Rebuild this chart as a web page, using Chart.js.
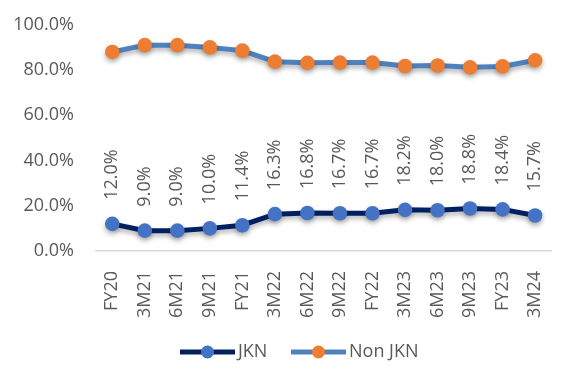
<!DOCTYPE html>
<html>
<head>
<meta charset="utf-8">
<script src="https://cdn.jsdelivr.net/npm/chart.js@4"></script>
<style>
  html, body { margin: 0; padding: 0; background: #fff; }
  #wrap { width: 569px; height: 365px; position: relative; }
</style>
</head>
<body>
<div id="wrap"><canvas id="chart"></canvas></div>
<script>
// Period labels and shares (%)
const periods = ['FY20', '3M21', '6M21', '9M21', 'FY21', '3M22', '6M22', '9M22', 'FY22', '3M23', '6M23', '9M23', 'FY23', '3M24'];
const jkn = [12.0, 9.0, 9.0, 10.0, 11.4, 16.3, 16.8, 16.7, 16.7, 18.2, 18.0, 18.8, 18.4, 15.7];
const nonJkn = [88.0, 91.0, 91.0, 90.0, 88.6, 83.7, 83.2, 83.3, 83.3, 81.8, 82.0, 81.2, 81.6, 84.3];
const yTicks = [0, 20, 40, 60, 80, 100];

const FONT = '"Open Sans", sans-serif';
const GREY = '#595959';
const SIZE = 18;

// soft drop shadow under the lines, like the Excel original
const shadowPlugin = {
    id: 'shadow',
    beforeDatasetsDraw: function(chart) {
        const ctx = chart.ctx;
        ctx.save();
        ctx.shadowColor = 'rgba(0,0,0,0.3)';
        ctx.shadowBlur = 5;
        ctx.shadowOffsetY = 3;
    },
    afterDatasetsDraw: function(chart) {
        chart.ctx.restore();
    }
};

// rotated value labels above the JKN points
const valueLabels = {
    id: 'valueLabels',
    afterDatasetsDraw: function(chart) {
        const ctx = chart.ctx;
        const meta = chart.getDatasetMeta(0);
        ctx.save();
        ctx.fillStyle = GREY;
        ctx.font = SIZE + 'px ' + FONT;
        ctx.textAlign = 'left';
        ctx.textBaseline = 'middle';
        meta.data.forEach(function(pt, i) {
            ctx.save();
            ctx.translate(pt.x, pt.y - 24);
            ctx.rotate(-Math.PI / 2);
            ctx.fillText(jkn[i].toFixed(1) + '%', 0, 0);
            ctx.restore();
        });
        ctx.restore();
    }
};

// bottom legend: line segment with marker in the middle
const bottomLegend = {
    id: 'bottomLegend',
    afterDraw: function(chart) {
        const ctx = chart.ctx;
        const y = 352;
        const items = [
            { label: 'JKN', x: 180, ds: chart.data.datasets[0] },
            { label: 'Non JKN', x: 291, ds: chart.data.datasets[1] }
        ];
        ctx.save();
        items.forEach(function(it) {
            ctx.strokeStyle = it.ds.borderColor;
            ctx.lineWidth = 5;
            ctx.beginPath();
            ctx.moveTo(it.x, y);
            ctx.lineTo(it.x + 55, y);
            ctx.stroke();
            ctx.fillStyle = it.ds.pointBackgroundColor;
            ctx.beginPath();
            ctx.arc(it.x + 27.5, y, 6.5, 0, Math.PI * 2);
            ctx.fill();
            ctx.fillStyle = GREY;
            ctx.font = SIZE + 'px ' + FONT;
            ctx.textAlign = 'left';
            ctx.textBaseline = 'middle';
            ctx.fillText(it.label, it.x + 58, y);
        });
        ctx.restore();
    }
};

new Chart(document.getElementById('chart').getContext('2d'), {
    type: 'line',
    data: {
        labels: periods,
        datasets: [{
            label: 'JKN',
            data: jkn,
            borderColor: '#002060',
            backgroundColor: '#4472C4',
            pointBackgroundColor: '#4472C4',
            pointBorderWidth: 0,
            pointRadius: 7.3,
            borderWidth: 5,
            tension: 0
        }, {
            label: 'Non JKN',
            data: nonJkn,
            borderColor: '#4F81BD',
            backgroundColor: '#ED7D31',
            pointBackgroundColor: '#ED7D31',
            pointBorderWidth: 0,
            pointRadius: 7.3,
            borderWidth: 5,
            tension: 0
        }]
    },
    options: {
        responsive: true,
        maintainAspectRatio: false,
        animation: false,
        layout: {
            padding: { top: 5, right: 0, bottom: 44, left: 0 }
        },
        plugins: {
            legend: { display: false },
            tooltip: { enabled: false }
        },
        scales: {
            x: {
                offset: true,
                grid: { display: false },
                border: { display: true, color: '#D9D9D9', width: 1.5 },
                afterFit: function(scale) { scale.height = 70; },
                ticks: {
                    color: GREY,
                    font: { family: FONT, size: SIZE },
                    maxRotation: 90,
                    minRotation: 90,
                    padding: 12
                }
            },
            y: {
                min: 0,
                max: 100,
                grid: { display: false },
                border: { display: false },
                afterFit: function(scale) { scale.width = 96; },
                afterBuildTicks: function(scale) {
                    scale.ticks = yTicks.map(function(v) { return { value: v }; });
                },
                ticks: {
                    color: GREY,
                    font: { family: FONT, size: SIZE },
                    padding: 14,
                    callback: function(v) { return v.toFixed(1) + '%'; }
                }
            }
        }
    },
    plugins: [shadowPlugin, valueLabels, bottomLegend]
});
</script>
</body>
</html>
